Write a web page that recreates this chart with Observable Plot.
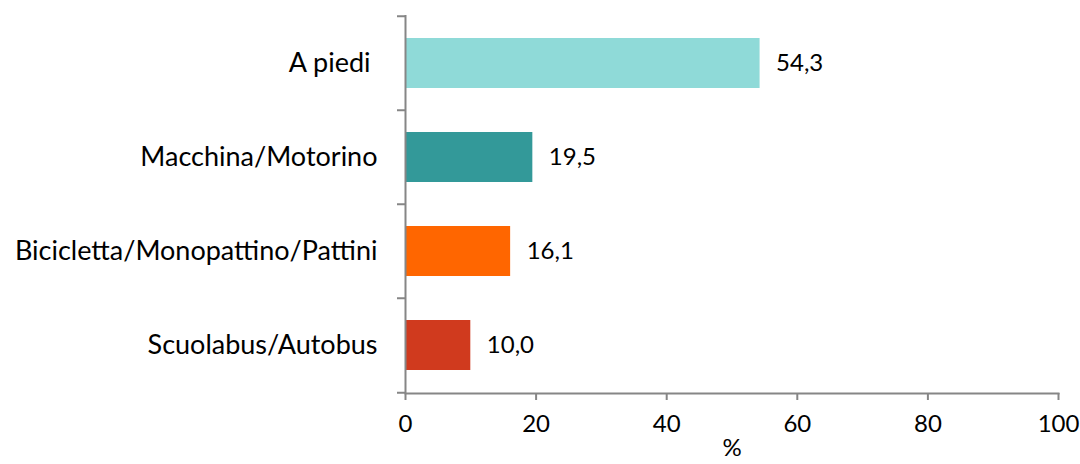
<!DOCTYPE html>
<html>
<head>
<meta charset="utf-8">
<script src="https://cdn.jsdelivr.net/npm/d3@7"></script>
<script src="https://cdn.jsdelivr.net/npm/@observablehq/plot@0.6"></script>
<style>
  html, body { margin: 0; padding: 0; background: #fff; }
  svg { font-family: Lato, sans-serif; }
</style>
</head>
<body>
<div id="chart"></div>
<script>
const categories = ["A piedi ", "Macchina/Motorino", "Bicicletta/Monopattino/Pattini", "Scuolabus/Autobus"];
const values = [54.3, 19.5, 16.1, 10.0];
const colors = ["#8FDAD8", "#339999", "#FF6600", "#D03A1E"];
const xTicks = [0, 20, 40, 60, 80, 100];
const xLabel = "%";

const data = categories.map((c, i) => ({category: c, value: values[i], color: colors[i]}));
const fmt = v => v.toFixed(1).replace(".", ",");
const axisColor = "#868686";
const halfStep = (393 - 15) / categories.length / 2;

const chart = Plot.plot({
  width: 1080,
  height: 464,
  marginLeft: 405,
  marginRight: 22,
  marginTop: 15,
  marginBottom: 71,
  style: {fontFamily: "Lato, sans-serif", fontSize: "24px", color: "#000", background: "#fff"},
  x: {domain: [0, 100]},
  y: {domain: categories, paddingInner: 0.47, paddingOuter: 0.235},
  color: {domain: categories, range: colors},
  marks: [
    Plot.barX(data, {x: "value", y: "category", fill: "color"}),
    Plot.text(data, {x: "value", y: "category", text: d => fmt(d.value), dx: 16, textAnchor: "start", fill: "#000", fontSize: 24}),
    Plot.ruleX([0], {stroke: axisColor, strokeWidth: 2}),
    Plot.frame({anchor: "bottom", stroke: axisColor, strokeWidth: 2}),
    Plot.axisY({tickSize: 8, dy: -halfStep, text: null, label: null, stroke: axisColor, strokeWidth: 2}),
    Plot.axisY([categories[categories.length - 1]], {tickSize: 8, dy: halfStep, text: null, label: null, stroke: axisColor, strokeWidth: 2}),
    Plot.axisY({tickSize: 0, tickPadding: 28, label: null, fontSize: 27, fill: "#000"}),
    Plot.axisX({ticks: xTicks, tickSize: 7, tickPadding: 14, tickFormat: d => String(d), label: null, stroke: axisColor, strokeWidth: 2, fill: "#000", fontSize: 24}),
    Plot.text([xLabel], {frameAnchor: "bottom", dy: 62, text: d => d, fill: "#000", fontSize: 24})
  ]
});
document.getElementById("chart").appendChild(chart);
</script>
</body>
</html>
